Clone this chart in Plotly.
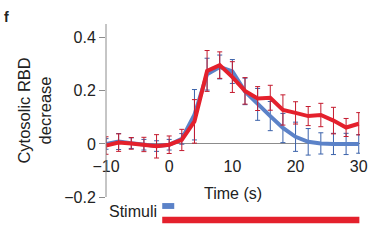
import plotly.graph_objects as go

time_s = [-10, -8, -6, -4, -2, 0, 2, 4, 6, 8, 10, 12, 14, 16, 18, 20, 22, 24, 26, 28, 30]

blue_mean = [0.0, 0.009, 0.003, -0.003, -0.008, -0.003, 0.019, 0.11, 0.263, 0.29, 0.273,
             0.198, 0.149, 0.105, 0.06, 0.027, 0.008, 0.002, 0.0, 0.0, 0.0]
blue_err = [0.02, 0.03, 0.02, 0.02, 0.02, 0.02, 0.02, 0.095, 0.06, 0.045, 0.045,
            0.05, 0.06, 0.055, 0.055, 0.055, 0.05, 0.04, 0.04, 0.04, 0.035]

red_mean = [-0.006, 0.005, 0.002, -0.002, -0.009, -0.003, 0.015, 0.085, 0.275, 0.297, 0.252,
            0.2, 0.171, 0.174, 0.128, 0.117, 0.105, 0.109, 0.088, 0.062, 0.076]
red_err = [0.033, 0.033, 0.022, 0.027, 0.044, 0.033, 0.04, 0.082, 0.077, 0.05, 0.058,
           0.05, 0.045, 0.047, 0.057, 0.042, 0.036, 0.044, 0.05, 0.034, 0.042]

x_ticks = [-10, 0, 10, 20, 30]
y_ticks = [-0.2, 0, 0.2, 0.4]
y_ticktext = ["\u22120.2", "0", "0.2", "0.4"]

# stimulus durations (s)
stim_blue = [-1.1, 0.8]
stim_red = [-1.1, 30.1]

blue_line = "#5b82c8"
blue_bar = "#3b62aa"
red_line = "#e4202c"
red_bar = "#c41a2e"

font = "Liberation Sans, Arial, Helvetica, sans-serif"

fig = go.Figure()
fig.add_trace(go.Scatter(
    x=time_s, y=blue_mean, mode="lines",
    line=dict(color=blue_line, width=4),
    error_y=dict(type="data", array=blue_err, color=blue_bar, thickness=1, width=2.5),
    showlegend=False, hoverinfo="skip"))
fig.add_trace(go.Scatter(
    x=time_s, y=red_mean, mode="lines",
    line=dict(color=red_line, width=4),
    error_y=dict(type="data", array=red_err, color=red_bar, thickness=1, width=2.5),
    showlegend=False, hoverinfo="skip"))

y_lo, y_hi = -0.2, 0.452
fig.update_layout(
    width=378, height=245,
    margin=dict(l=106, r=18, t=24, b=48, autoexpand=False),
    paper_bgcolor="white", plot_bgcolor="white",
    font=dict(family=font, size=15, color="#222"),
    xaxis=dict(range=[-10, 30.2], tickvals=x_ticks, showgrid=False, zeroline=False,
               showline=False, anchor="free", position=(0 - y_lo) / (y_hi - y_lo),
               ticks="outside", ticklen=8, tickcolor="rgba(0,0,0,0)",
               tickfont=dict(size=16)),
    yaxis=dict(range=[y_lo, y_hi], tickvals=y_ticks, ticktext=y_ticktext, showgrid=False,
               zeroline=True, zerolinecolor="#8c8c8c", zerolinewidth=1,
               showline=False, ticks="outside", ticklen=6, tickcolor="#8c8c8c",
               tickfont=dict(size=16)),
)
# y axis line from -0.2 to top
fig.add_shape(type="line", xref="paper", yref="paper", x0=0, x1=0, y0=0, y1=1,
              line=dict(color="#8c8c8c", width=1))

# stimuli bars
fig.add_shape(type="rect", xref="x", yref="paper", x0=stim_blue[0], x1=stim_blue[1],
              y0=-0.069, y1=-0.035, fillcolor=blue_line, line=dict(width=0))
fig.add_shape(type="rect", xref="x", yref="paper", x0=stim_red[0], x1=stim_red[1],
              y0=-0.152, y1=-0.114, fillcolor=red_line, line=dict(width=0))

fig.add_annotation(text="Stimuli", xref="x", yref="paper", x=stim_red[0], y=-0.085,
                   xanchor="right", yanchor="middle", xshift=-3, showarrow=False,
                   font=dict(size=16))
fig.add_annotation(text="Time (s)", xref="paper", yref="paper", x=0.5, y=0.02,
                   xanchor="center", yanchor="middle", showarrow=False, font=dict(size=16))
fig.add_annotation(text="Cytosolic RBD<br>decrease", xref="paper", yref="paper",
                   x=-0.283, y=0.5, xanchor="center", yanchor="middle", textangle=-90,
                   showarrow=False, font=dict(size=16.5))
fig.add_annotation(text="<b>f</b>", xref="paper", yref="paper", x=-0.41, y=1.04,
                   xanchor="left", yanchor="middle", showarrow=False, font=dict(size=14))

fig.write_html("out.html", config={"displayModeBar": False},
               post_script="document.body.style.margin='0';")
